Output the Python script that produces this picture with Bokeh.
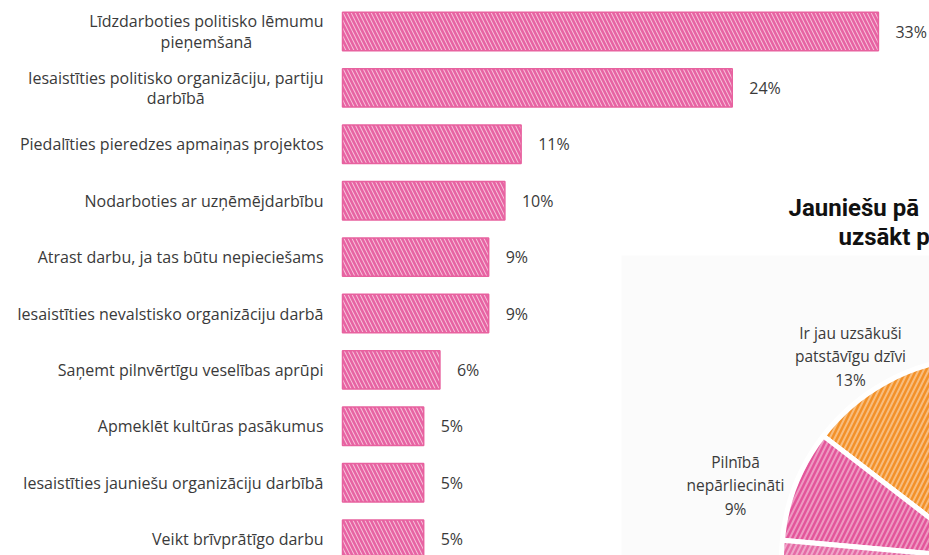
import numpy as np
from bokeh.plotting import figure
from bokeh.models import Range1d, ColumnDataSource, BoxAnnotation
from bokeh.core.properties import value
from bokeh.embed import file_html
from bokeh.resources import INLINE

# ---------------- data ----------------
categories = [
    "Līdzdarboties politisko lēmumu\npieņemšanā",
    "Iesaistīties politisko organizāciju, partiju\ndarbībā",
    "Piedalīties pieredzes apmaiņas projektos",
    "Nodarboties ar uzņēmējdarbību",
    "Atrast darbu, ja tas būtu nepieciešams",
    "Iesaistīties nevalstisko organizāciju darbā",
    "Saņemt pilnvērtīgu veselības aprūpi",
    "Apmeklēt kultūras pasākumus",
    "Iesaistīties jauniešu organizāciju darbībā",
    "Veikt brīvprātīgo darbu",
]
values = [33, 24, 11, 10, 9, 9, 6, 5, 5, 5]

title_lines = ["Jauniešu pā", "uzsākt p"]
pie_labels = ["Ir jau uzsākuši\npatstāvīgu dzīvi\n13%", "Pilnībā\nnepārliecināti\n9%", ""]
pie_values = [13, 9, 20]
pie_colors = ["#f39128", "#e3559a", "#e56aa5"]

# ---------------- layout helpers ----------------
W, H = 929, 555
X0 = 342.0      # pixel position of 0 %
PPU = 16.24     # pixels per percent
Y0 = 31.0       # pixel centre of first row
ROW = 56.4      # pixels per row


def px_x(X):
    return (X - X0) / PPU


def px_y(Y):
    return (Y - Y0) / ROW


p = figure(width=W, height=H, output_backend="svg", toolbar_location=None,
           x_range=Range1d(-X0 / PPU, (W - X0) / PPU),
           y_range=Range1d((H - Y0) / ROW, -Y0 / ROW),
           min_border=0, outline_line_color=None)
p.axis.visible = False
p.grid.visible = False
p.background_fill_color = "white"
p.border_fill_color = "white"

# light panel behind the pie
p.add_layout(BoxAnnotation(left=px_x(621), top=px_y(255), fill_color="#fbfbfb",
                           fill_alpha=1.0, line_color=None, level="underlay"))

# ---------------- bars ----------------
rows = list(range(len(values)))
src = ColumnDataSource(dict(y=rows, v=values, cat=categories,
                            lab=[f"{v}%" for v in values]))
p.hbar(y="y", left=0, right="v", height=0.68, source=src,
       fill_color="#f7c2da", fill_alpha=1.0,
       hatch_pattern="\\", hatch_color="#e4529a", hatch_weight=2.6,
       hatch_scale=8, hatch_alpha=0.85,
       line_color="#e8629f", line_width=1.5)

p.text(x=0, y="y", text="cat", source=src, x_offset=-19,
       anchor="center_right", text_align="center", text_baseline="middle",
       text_font=value("Open Sans"), text_font_size="16px",
       text_color="#3a3a3a", text_line_height=0.92)

p.text(x="v", y="y", text="lab", source=src, x_offset=17,
       text_align="left", text_baseline="middle",
       text_font=value("Open Sans"), text_font_size="16px", text_color="#3a3a3a")

# ---------------- pie (partially visible) ----------------
cx, cy = px_x(982), px_y(558)
start0 = np.deg2rad(95.6)
fr = np.array(pie_values) / 100.0 * 2 * np.pi
ends = start0 + np.cumsum(fr)
starts = ends - fr
psrc = ColumnDataSource(dict(x=[cx] * len(pie_values), y=[cy] * len(pie_values),
                             s=starts, e=ends, c=pie_colors))
p.wedge(x="x", y="y", radius=201, radius_units="screen",
        start_angle="s", end_angle="e", direction="anticlock", source=psrc,
        fill_color="c", hatch_pattern="/", hatch_color="white",
        hatch_alpha=0.4, hatch_weight=2, hatch_scale=10,
        line_color="white", line_width=5)

lx = [px_x(850), px_x(735)]
ly = [px_y(356), px_y(485)]
p.text(x=lx, y=ly, text=pie_labels[:2], anchor="center", text_align="center",
       text_baseline="middle", text_font=value("Open Sans"), text_font_size="15.5px",
       text_color="#3a3a3a", text_line_height=1.07)

# ---------------- title fragment ----------------
p.text(x=[px_x(788), px_x(838)], y=[px_y(207), px_y(236)], text=title_lines,
       text_align="left", text_baseline="middle",
       text_font=value("Roboto"), text_font_style="bold", text_font_size="24px",
       text_color="#111111")

open("out.html", "w").write(file_html(p, INLINE))
